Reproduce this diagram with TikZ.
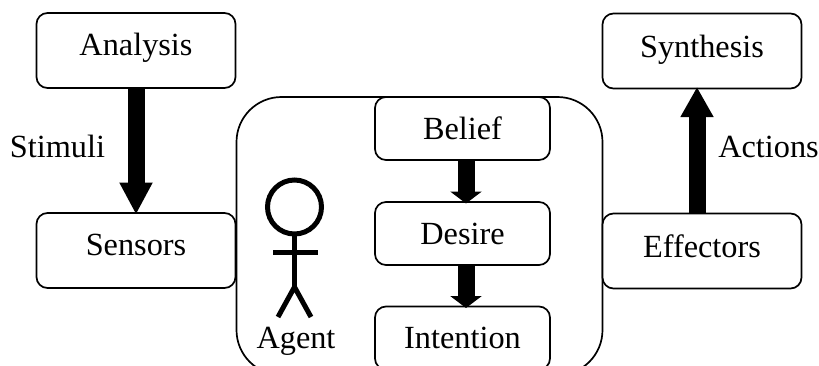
\documentclass[tikz,border=0pt]{standalone}
\usepackage{fontspec}
\setmainfont{Liberation Serif}
\usetikzlibrary{arrows.meta}
\tikzset{
  boxstyle/.style={draw=black,fill=white,line width=1.7pt,rounded corners=11pt,inner sep=0pt,outer sep=0pt,
    minimum width=199pt,minimum height=75pt,text depth=0pt,font=\fontsize{32.3}{32.3}\selectfont},
  innerbox/.style={boxstyle,minimum width=175pt,minimum height=63pt},
  labelstyle/.style={inner sep=0pt,anchor=base,font=\fontsize{32.3}{32.3}\selectfont},
  bigarrow/.style={line width=17pt,draw=black,shorten >=-1.5pt,-{Triangle[width=31pt,length=#1,fill=black]}},
  figure/.style={line width=5pt,draw=black}
}
\begin{document}
\begin{tikzpicture}[x=1pt,y=-1pt]
\useasboundingbox (0,0) rectangle (819,365);
\clip (0,0) rectangle (819,365);
\fill[white] (0,0) rectangle (819,365);
% agent container
\node[draw=black,line width=1.7pt,rounded corners=45pt,inner sep=0pt,outer sep=0pt,minimum width=366pt,minimum height=278pt] (agentbox) at (419.5,236) {};
% outer boxes
\node[boxstyle,text height=9pt] (analysis) at (136,50.5) {Analysis};
\node[boxstyle,text height=9pt] (sensors) at (136,250.5) {Sensors};
\node[boxstyle,text height=13pt] (synthesis) at (702,51) {Synthesis};
\node[boxstyle,text height=13pt] (effectors) at (702,251) {Effectors};
% inner boxes
\node[innerbox,text height=21pt] (belief) at (462.5,128.5) {Belief};
\node[innerbox,text height=21pt] (desire) at (462.5,233.5) {Desire};
\node[innerbox,text height=20pt] (intention) at (462.5,338) {Intention};
% arrows
\draw[bigarrow=32pt] (analysis.south) -- (sensors.north);
\draw[bigarrow=30pt] ([xshift=-5pt]effectors.north) -- ([xshift=-5pt]synthesis.south);
\draw[bigarrow=12pt] ([xshift=3.5pt]belief.south) -- ([xshift=3.5pt]desire.north);
\draw[bigarrow=12pt] ([xshift=3.5pt]desire.south) -- ([xshift=3.5pt]intention.north);
% labels
\node[labelstyle] (stimuli) at (57.5,157) {Stimuli};
\node[labelstyle] (actions) at (768.5,157) {Actions};
\node[labelstyle] (agent) at (296,348) {Agent};
% stick figure
\node[draw=black,line width=5pt,circle,minimum size=54pt,inner sep=0pt,outer sep=0pt] (head) at (294.5,207) {};
\coordinate (hip) at (294.5,287);
\coordinate (armL) at (273,252);
\coordinate (armR) at (318,252);
\coordinate (legL) at (278,317);
\coordinate (legR) at (311,317);
\draw[figure] (head.south) -- (hip);
\draw[figure] (armL) -- (armR);
\draw[figure] (legL) -- (hip) -- (legR);
\end{tikzpicture}
\end{document}
